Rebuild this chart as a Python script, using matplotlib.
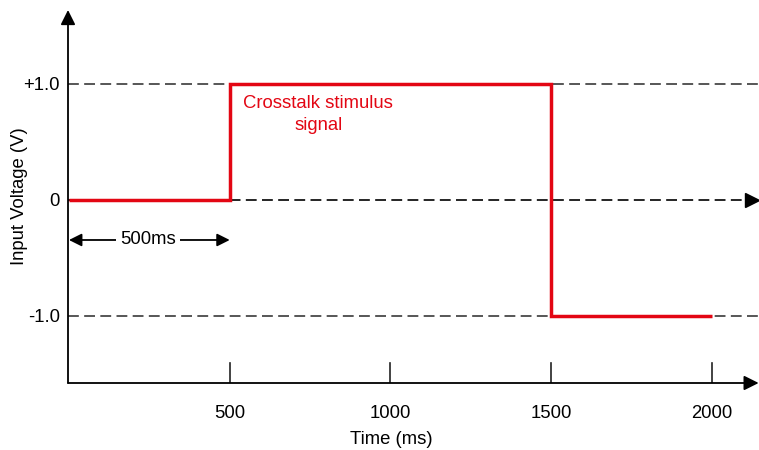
import matplotlib
matplotlib.use("Agg")
import matplotlib.pyplot as plt
import numpy as np

plt.rcParams["font.family"] = ["Liberation Sans", "DejaVu Sans"]

# stimulus: level held between consecutive edges
edges_ms = [0, 500, 1500, 2000]
levels_v = [0.0, 1.0, -1.0]
ref_levels = [-1.0, 0.0, 1.0]
ytick_labels = ["-1.0", "0", "+1.0"]
xticks_ms = [500, 1000, 1500, 2000]
span_ms = (0, 500)

RED = "#e30613"
FS = 13.3
fig = plt.figure(figsize=(7.59, 4.50), dpi=100)
ax = fig.add_axes([68 / 759, 67 / 450, 690 / 759, 373 / 450])
x0, x1 = -3, 2143
y0, y1 = -1.578, 1.638
ax.set_xlim(x0, x1)
ax.set_ylim(y0, y1)
for s in ax.spines.values():
    s.set_visible(False)

# dashed reference levels (0 V one carries an arrow head)
for lv in ref_levels:
    end = 2120 if lv == 0 else x1
    col = "black" if lv == 0 else "#3a3a3a"
    ax.plot([x0, end], [lv, lv], ls=(0, (6.5, 3.2)), color=col, lw=1.2, zorder=1)
ax.plot([2124], [0], marker=">", ms=10, color="black", clip_on=False, zorder=1)

# axes drawn as arrows
arrow = dict(arrowstyle="-|>", color="black", lw=1.3, mutation_scale=22, shrinkA=0, shrinkB=0)
ax.annotate("", xy=(x1 + 2, y0), xytext=(x0, y0), xycoords="data", arrowprops=arrow,
            annotation_clip=False)
ax.annotate("", xy=(x0, y1), xytext=(x0, y0), xycoords="data", arrowprops=arrow,
            annotation_clip=False)

ax.stairs(levels_v, edges_ms, baseline=None, color=RED, lw=2.5, zorder=3)

ax.set_xticks(xticks_ms)
ax.set_xticklabels([str(t) for t in xticks_ms], fontsize=FS)
ax.tick_params(axis="x", length=0, pad=16)
for t in xticks_ms:
    ax.plot([t, t], [y0, y0 + 20 / 116], color="#222222", lw=1.2, zorder=2)
ax.set_yticks(ref_levels)
ax.set_yticklabels(ytick_labels, fontsize=FS)
ax.tick_params(axis="y", length=0, pad=6)

ax.set_xlabel("Time (ms)", fontsize=FS)
ax.xaxis.set_label_coords((391 - 68) / 690, -(439 - 383) / 373)
ax.xaxis.label.set_va("center")
ax.set_ylabel("Input Voltage (V)", fontsize=FS)
ax.yaxis.set_label_coords(-48 / 690, (383 - 196) / 373)
ax.yaxis.label.set_va("center")

ax.annotate("", xy=(span_ms[0], -0.345), xytext=(span_ms[1], -0.345),
            arrowprops=dict(arrowstyle="<|-|>", color="black", lw=1.3,
                            mutation_scale=19, shrinkA=0, shrinkB=0))
ax.text(np.mean(span_ms) - 4, -0.345, "500ms", ha="center", va="center", fontsize=FS,
        bbox=dict(facecolor="white", edgecolor="none", pad=3))

ax.text(775, 0.737, "Crosstalk stimulus\nsignal", ha="center", va="center", color=RED,
        fontsize=FS, linespacing=1.45)

fig.savefig("out.png", dpi=100, facecolor="white")
